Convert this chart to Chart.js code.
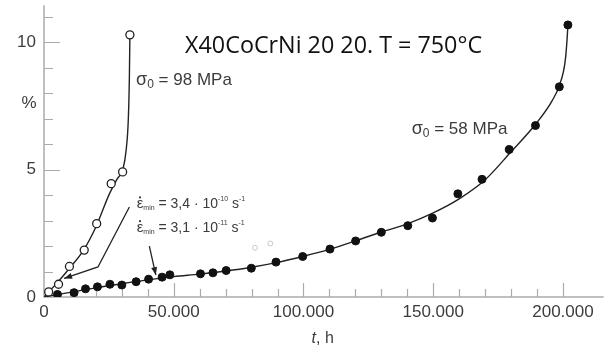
<!DOCTYPE html>
<html lang="en">
<head>
<meta charset="UTF-8" />
<title>Creep curves X40CoCrNi 20 20</title>
<script src="https://cdn.jsdelivr.net/npm/chart.js@4.4.1/dist/chart.umd.min.js"></script>
<style>
  html, body { margin: 0; padding: 0; background: #fff; }
  #wrap { width: 609px; height: 349px; }
</style>
</head>
<body>
<div id="wrap"><canvas id="chart"></canvas></div>
<script>
// sigma0 = 98 MPa, measured points (open circles)
const t98 = [1800, 5600, 9800, 15500, 20300, 25900, 30300, 33100]
const e98 = [0.2, 0.5, 1.2, 1.84, 2.88, 4.45, 4.91, 10.29]
// sigma0 = 98 MPa, drawn curve
const t98Curve = [0, 2000, 5000, 10000, 15000, 20000, 25000, 28000, 30500, 31700, 32500, 32900, 33100]
const e98Curve = [0, 0.22, 0.55, 1.15, 1.8, 2.75, 4.0, 4.6, 5.05, 5.8, 7.0, 8.6, 10.3]

// sigma0 = 58 MPa, measured points (filled)
const t58 = [5200, 11600, 16000, 20600, 25400, 30000, 35500, 40300, 45500, 48500,
  60300, 65100, 70200, 79900, 89400, 99700, 110200, 120100, 130000, 140200,
  149700, 159500, 168800, 179300, 189400, 198600, 201900]
const e58 = [0.1, 0.17, 0.32, 0.4, 0.5, 0.47, 0.6, 0.7, 0.78, 0.87,
  0.91, 0.95, 1.04, 1.13, 1.37, 1.59, 1.88, 2.2, 2.54, 2.8,
  3.1, 4.05, 4.62, 5.79, 6.73, 8.25, 10.68]
// sigma0 = 58 MPa, drawn curve
const t58Curve = [0, 10000, 20000, 30000, 40000, 50000, 60000, 70000, 80000, 90000,
  100000, 110000, 120000, 130000, 140000, 150000, 160000, 170000, 180000, 190000,
  195800, 198600, 200900, 201700, 201900]
const e58Curve = [0, 0.18, 0.36, 0.52, 0.67, 0.8, 0.9, 1.02, 1.17, 1.36,
  1.6, 1.87, 2.2, 2.55, 2.87, 3.3, 3.85, 4.6, 5.7, 6.85,
  7.7, 8.3, 9.3, 10.3, 10.7]

// two faint stray circles in the scan
const tFaint = [81300, 87200]
const eFaint = [1.93, 2.1]

const xLabelTicks = [0, 50000, 100000, 150000, 200000]
const yLabelTicks = [0, 5, 10]

const pts = (xs, ys) => xs.map((v, i) => ({ x: v, y: ys[i] }))

const labelFont = '"Liberation Sans", Arial, sans-serif'

// draws text pieces one after another; a piece with dot:true gets a dot above it
function richText(ctx, x, y, parts, color) {
  ctx.fillStyle = color
  ctx.textBaseline = 'alphabetic'
  ctx.textAlign = 'left'
  let cx = x
  parts.forEach((p) => {
    ctx.font = p.size + 'px ' + labelFont
    ctx.fillText(p.t, cx, y + (p.dy || 0))
    const w = ctx.measureText(p.t).width
    if (p.dot) {
      ctx.beginPath()
      ctx.arc(cx + w / 2, y - p.size * 0.72, 1.1, 0, Math.PI * 2)
      ctx.fill()
    }
    cx += w
  })
}

function arrow(ctx, path) {
  ctx.beginPath()
  ctx.moveTo(path[0][0], path[0][1])
  for (let i = 1; i < path.length; i++) ctx.lineTo(path[i][0], path[i][1])
  ctx.stroke()
  const [x1, y1] = path[path.length - 2]
  const [x2, y2] = path[path.length - 1]
  const ang = Math.atan2(y2 - y1, x2 - x1)
  const L = 8, W = 3
  ctx.beginPath()
  ctx.moveTo(x2, y2)
  ctx.lineTo(x2 - L * Math.cos(ang) + W * Math.sin(ang), y2 - L * Math.sin(ang) - W * Math.cos(ang))
  ctx.lineTo(x2 - L * Math.cos(ang) - W * Math.sin(ang), y2 - L * Math.sin(ang) + W * Math.cos(ang))
  ctx.closePath()
  ctx.fill()
}

const decor = {
  id: 'decor',
  beforeDatasetsDraw(chart) {
    const { ctx, chartArea: a, scales: { x, y } } = chart
    ctx.save()
    ctx.strokeStyle = '#ababab'
    ctx.lineWidth = 1.5
    ctx.beginPath()
    ctx.moveTo(a.left, a.top)
    ctx.lineTo(a.left, a.bottom)
    ctx.lineTo(a.right, a.bottom)
    ctx.stroke()
    ctx.lineWidth = 1.2
    ctx.beginPath()
    for (let v = 10000; v <= 200000; v += 10000) {
      const px = Math.round(x.getPixelForValue(v)) + 0.5
      const len = v % 50000 ? 8 : 14
      ctx.moveTo(px, a.bottom)
      ctx.lineTo(px, a.bottom - len)
    }
    for (let v = 1; v <= 11; v++) {
      const py = Math.round(y.getPixelForValue(v)) + 0.5
      const len = v % 5 ? 9 : 16
      ctx.moveTo(a.left, py)
      ctx.lineTo(a.left + len, py)
    }
    ctx.stroke()
    ctx.restore()
  },
  afterDatasetsDraw(chart) {
    const { ctx, scales: { x, y } } = chart
    const P = (t, e) => [x.getPixelForValue(t), y.getPixelForValue(e)]
    ctx.save()

    // title, Calibri-like, squeezed to the reference width
    ctx.font = '23px "Open Sans", sans-serif'
    const tt = 'X40CoCrNi 20 20. T = 750°C'
    const w = ctx.measureText(tt).width
    const [tx, ty] = P(111600, 9.84)
    ctx.translate(tx, ty)
    ctx.scale(297 / w, 1)
    ctx.fillStyle = '#111'
    ctx.textAlign = 'center'
    ctx.textBaseline = 'middle'
    ctx.fillText(tt, 0, 0)
    ctx.setTransform(1, 0, 0, 1, 0, 0)

    const grey = '#3c3c3c'
    let [sx, sy] = P(35500, 8.57)
    richText(ctx, sx, sy + 6, [
      { t: 'σ', size: 18 }, { t: '0', size: 12, dy: 3 }, { t: ' = 98 MPa', size: 17 }], grey)
    ;[sx, sy] = P(141700, 6.65)
    richText(ctx, sx, sy + 6, [
      { t: 'σ', size: 18 }, { t: '0', size: 12, dy: 3 }, { t: ' = 58 MPa', size: 17 }], grey)

    ;[sx, sy] = P(35700, 3.68)
    richText(ctx, sx, sy + 5, [
      { t: 'ε', size: 15, dot: true }, { t: 'min', size: 7, dy: 2 }, { t: ' = 3,4 · 10', size: 14 },
      { t: '-10', size: 7, dy: -7 }, { t: ' s', size: 14 }, { t: '-1', size: 7, dy: -7 }], grey)
    ;[sx, sy] = P(35700, 2.75)
    richText(ctx, sx, sy + 5, [
      { t: 'ε', size: 15, dot: true }, { t: 'min', size: 7, dy: 2 }, { t: ' = 3,1 · 10', size: 14 },
      { t: '-11', size: 7, dy: -7 }, { t: ' s', size: 14 }, { t: '-1', size: 7, dy: -7 }], grey)

    ctx.strokeStyle = '#222'
    ctx.fillStyle = '#222'
    ctx.lineWidth = 1.3
    arrow(ctx, [P(32900, 3.53), P(20800, 1.18), P(7750, 0.73)])
    arrow(ctx, [P(40600, 2.0), P(43100, 0.86)])

    // axis captions
    ctx.fillStyle = grey
    ctx.textAlign = 'center'
    ctx.textBaseline = 'middle'
    ctx.font = '17px ' + labelFont
    ctx.fillText('%', 29, y.getPixelForValue(7.6))
    ctx.font = 'italic 16px ' + labelFont
    const cap = chart.chartArea.left + (320 - 44)
    ctx.textAlign = 'right'
    ctx.fillText('t', cap - 4, 339)
    ctx.font = '16px ' + labelFont
    ctx.textAlign = 'left'
    ctx.fillText(', h', cap - 4, 339)
    ctx.restore()
  },
}

new Chart(document.getElementById('chart'), {
  type: 'scatter',
  data: {
    datasets: [
      {
        data: pts(t98, e98),
        pointRadius: 4,
        pointBackgroundColor: '#fff',
        pointBorderColor: '#222',
        pointBorderWidth: 1.3,
      },
      {
        data: pts(t58, e58),
        pointRadius: 4,
        pointBackgroundColor: '#111',
        pointBorderColor: '#111',
        pointBorderWidth: 1,
      },
      {
        data: pts(tFaint, eFaint),
        pointRadius: 2.5,
        pointBackgroundColor: '#fff',
        pointBorderColor: '#c8c8c8',
        pointBorderWidth: 1,
      },
      {
        data: pts(t98Curve, e98Curve),
        showLine: true,
        pointRadius: 0,
        borderColor: '#222',
        borderWidth: 1.4,
        cubicInterpolationMode: 'monotone',
      },
      {
        data: pts(t58Curve, e58Curve),
        showLine: true,
        pointRadius: 0,
        borderColor: '#222',
        borderWidth: 1.4,
        cubicInterpolationMode: 'monotone',
      },
    ],
  },
  options: {
    responsive: true,
    maintainAspectRatio: false,
    animation: false,
    layout: { padding: { top: 4, right: 0, left: 0, bottom: 0 } },
    plugins: { legend: { display: false }, tooltip: { enabled: false } },
    scales: {
      x: {
        type: 'linear',
        min: 0,
        max: 215700,
        grid: { display: false, drawTicks: false },
        border: { display: false },
        afterBuildTicks: (s) => { s.ticks = xLabelTicks.map((v) => ({ value: v })) },
        afterFit: (s) => { s.height = 52; s.paddingLeft = 0; s.paddingRight = 0 },
        ticks: {
          autoSkip: false,
          maxRotation: 0,
          padding: 5,
          color: '#3c3c3c',
          font: { family: labelFont, size: 17 },
          callback: (v) => String(v).replace(/\B(?=(\d{3})+(?!\d))/g, '.'),
        },
      },
      y: {
        type: 'linear',
        min: 0,
        max: 11.45,
        grid: { display: false, drawTicks: false },
        border: { display: false },
        afterBuildTicks: (s) => { s.ticks = yLabelTicks.map((v) => ({ value: v })) },
        afterFit: (s) => { s.width = 44; s.paddingTop = 0; s.paddingBottom = 0 },
        ticks: {
          autoSkip: false,
          padding: 8,
          color: '#3c3c3c',
          font: { family: labelFont, size: 17 },
        },
      },
    },
  },
  plugins: [decor],
})
</script>
</body>
</html>
